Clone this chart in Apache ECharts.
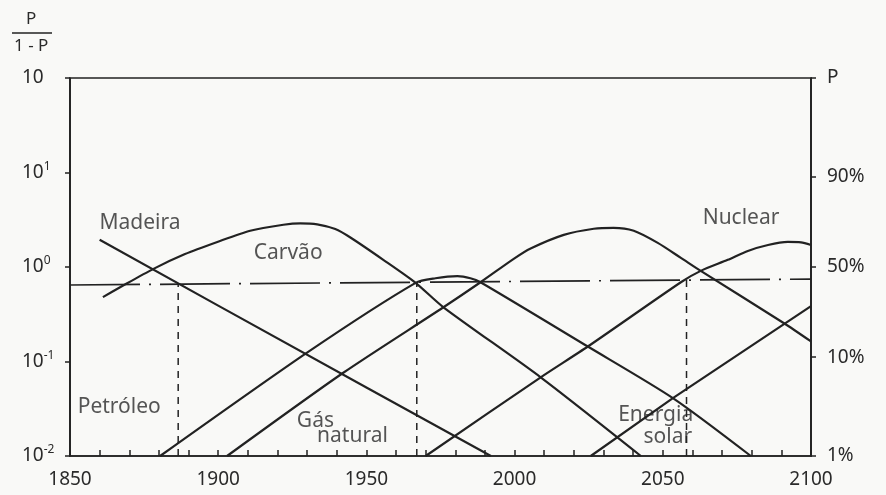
<!DOCTYPE html>
<html>
<head>
<meta charset="utf-8">
<script src="https://cdn.jsdelivr.net/npm/echarts@6/dist/echarts.min.js"></script>
<style>
html, body { margin: 0; padding: 0; background: #f9f9f7; }
#chart { width: 886px; height: 495px; }
</style>
</head>
<body>
<div id="chart"></div>
<script>
// market share ratio P/(1-P): [year, value]
const madeira = [[1860, 1.94], [1900, 0.39], [1950, 0.053], [1992, 0.01]];
const carvao = [[1861.1, 0.48], [1866.9, 0.61], [1878, 0.95], [1888.8, 1.37], [1899.7, 1.84],
    [1910.8, 2.42], [1922, 2.80], [1927.7, 2.90], [1933.4, 2.83], [1939.5, 2.52], [1944.6, 2.05],
    [1955.7, 1.19], [1966.6, 0.68], [1976, 0.375], [2008.8, 0.068], [2042.6, 0.01]];
const petroleo = [[1880.4, 0.01], [1930.1, 0.125], [1966.6, 0.68], [1973.3, 0.76], [1980.7, 0.80],
    [1985.1, 0.76], [1988.5, 0.69], [2024.7, 0.144], [2053.4, 0.041], [2079.7, 0.01]];
const gasNatural = [[1903, 0.01], [1942.2, 0.076], [1976, 0.375], [1988.5, 0.69], [1999.7, 1.22],
    [2005.4, 1.57], [2016.6, 2.19], [2026.7, 2.54], [2033.4, 2.60], [2040.2, 2.42], [2048.3, 1.80],
    [2056.1, 1.25], [2062.8, 0.91], [2090.9, 0.254], [2100, 0.163]];
const nuclear = [[1970, 0.01], [2008.8, 0.068], [2024.7, 0.144], [2056.1, 0.69], [2062.8, 0.91],
    [2071.9, 1.19], [2078.7, 1.48], [2085.5, 1.71], [2092.2, 1.84], [2096.6, 1.82], [2100, 1.71]];
const energiaSolar = [[2025.7, 0.01], [2053.4, 0.041], [2100, 0.385]];

// the 50% reference line (drawn slightly tilted on the plate) and the drops from it
const halfLine = [[1850, 0.645], [2100, 0.745]];
const dropYears = [1886.5, 1967, 2058];

// right axis: share P
const pLevels = [0.01, 0.1, 0.5, 0.9];

// curve names and where they sit
const labelTexts = ['Madeira', 'Carvão', 'Petróleo', 'Gás', 'natural', 'Nuclear', 'Energia', 'solar'];
const labelSpots = [[1873.6, 2.94], [1923.6, 1.41], [1866.6, 0.0332], [1932.8, 0.0236],
    [1945.3, 0.0163], [2076.4, 3.32], [2047.6, 0.0273], [2051.7, 0.0159]];

const INK = '#222';
const TEXT = '#2a2a2a';
const FONT = "'Noto Sans', sans-serif";

let chart = echarts.init(document.getElementById('chart'));

function halfAt(year) {
    // log-linear interpolation along the 50% line
    let a = halfLine[0], b = halfLine[1];
    let t = (year - a[0]) / (b[0] - a[0]);
    return Math.pow(10, Math.log10(a[1]) + t * (Math.log10(b[1]) - Math.log10(a[1])));
}

function curve(name, data, smooth) {
    return {
        name: name,
        type: 'line',
        data: data,
        showSymbol: false,
        smooth: smooth,
        silent: true,
        lineStyle: { color: INK, width: 2.2 }
    };
}

let series = [
    curve('Madeira', madeira, false),
    curve('Carvão', carvao, 0.25),
    curve('Petróleo', petroleo, 0.25),
    curve('Gás natural', gasNatural, 0.25),
    curve('Nuclear', nuclear, 0.25),
    curve('Energia solar', energiaSolar, false),
    {
        type: 'line',
        data: halfLine,
        showSymbol: false,
        silent: true,
        lineStyle: { color: INK, width: 1.7, type: [70, 9, 2, 9] }
    }
];

dropYears.forEach(function (y) {
    series.push({
        type: 'line',
        data: [[y, 0.01], [y, halfAt(y)]],
        showSymbol: false,
        silent: true,
        lineStyle: { color: INK, width: 1.5, type: [7, 6] }
    });
});

series.push({
    type: 'scatter',
    data: labelSpots.map(function (p, i) {
        return { value: p, name: labelTexts[i] };
    }),
    symbolSize: 0,
    silent: true,
    label: {
        show: true,
        position: 'inside',
        formatter: '{b}',
        color: TEXT,
        fontFamily: FONT,
        fontSize: 21
    }
});

let option = {
    backgroundColor: '#f9f9f7',
    animation: false,
    grid: {
        left: 70, right: 75, top: 78, bottom: 39,
        show: true,
        borderColor: INK,
        borderWidth: 1.7
    },
    xAxis: {
        type: 'value',
        min: 1850,
        max: 2100,
        interval: 10,
        axisLine: { onZero: false, lineStyle: { color: INK, width: 1.7 } },
        axisTick: { inside: true, length: 6, lineStyle: { color: INK, width: 1.5 } },
        splitLine: { show: false },
        axisLabel: {
            color: TEXT,
            fontFamily: FONT,
            fontSize: 19,
            margin: 14,
            formatter: function (v) {
                return v % 50 === 0 ? String(v) : '';
            }
        }
    },
    yAxis: [
        {
            type: 'log',
            logBase: 10,
            min: 0.01,
            max: 100,
            axisLine: { show: true, lineStyle: { color: INK, width: 1.7 } },
            axisTick: { show: true, length: 5, lineStyle: { color: INK, width: 1.5 } },
            splitLine: { show: false },
            axisLabel: {
                align: 'left',
                margin: 48,
                color: TEXT,
                fontFamily: FONT,
                formatter: function (v) {
                    let e = Math.round(Math.log10(v));
                    if (e === 2) {
                        return '{b|10}';
                    }
                    return '{b|10}{s|' + (e < 0 ? '-' : '') + Math.abs(e) + '}';
                },
                rich: {
                    b: { fontSize: 19, fontFamily: FONT, color: TEXT, lineHeight: 24 },
                    s: { fontSize: 12, fontFamily: FONT, color: TEXT, verticalAlign: 'top', lineHeight: 24 }
                }
            }
        },
        {
            type: 'value',
            position: 'right',
            min: -2,
            max: 2,
            axisLine: { show: true, lineStyle: { color: INK, width: 1.7 } },
            splitLine: { show: false },
            axisTick: {
                show: true,
                length: 5,
                customValues: pLevels.map(function (p) {
                    return Math.log10(p / (1 - p));
                }).concat([2]),
                lineStyle: { color: INK, width: 1.5 }
            },
            axisLabel: {
                color: TEXT,
                fontFamily: FONT,
                fontSize: 19,
                margin: 16,
                customValues: pLevels.map(function (p) {
                    return Math.log10(p / (1 - p));
                }).concat([2]),
                formatter: function (v) {
                    if (v === 2) {
                        return 'P';
                    }
                    let p = Math.pow(10, v) / (1 + Math.pow(10, v));
                    return Math.round(p * 100) + '%';
                }
            }
        }
    ],
    graphic: [
        {
            type: 'text', left: 26, top: 11,
            style: { text: 'P', fontSize: 17, fontFamily: FONT, fill: TEXT }
        },
        {
            type: 'line',
            shape: { x1: 12, y1: 33, x2: 52, y2: 33 },
            style: { stroke: INK, lineWidth: 1.7 }
        },
        {
            type: 'text', left: 14, top: 38,
            style: { text: '1 - P', fontSize: 17, fontFamily: FONT, fill: TEXT }
        }
    ],
    series: series
};

chart.setOption(option);
</script>
</body>
</html>
